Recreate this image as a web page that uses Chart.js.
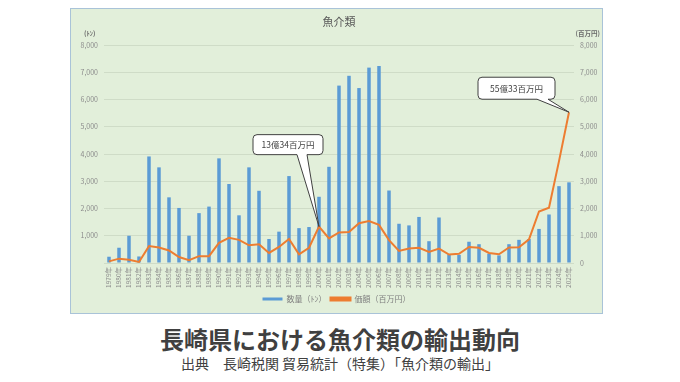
<!DOCTYPE html>
<html lang="ja">
<head>
<meta charset="utf-8">
<title>長崎県における魚介類の輸出動向</title>
<script src="https://cdn.jsdelivr.net/npm/chart.js@4/dist/chart.umd.min.js"></script>
<style>
  html, body { margin: 0; padding: 0; background: #ffffff; }
  body { width: 680px; height: 382px; position: relative; overflow: hidden; font-family: "Noto Sans CJK JP", "Noto Sans", sans-serif; }
  #caixa { position: absolute; left: 70px; top: 8px; width: 531px; height: 304px; background: #e2efda; border: 1px solid #a9c3d8; }
  #titulo { position: absolute; left: 0; top: 322px; width: 680px; text-align: center; font-size: 24px; font-weight: bold; line-height: 34px; color: #404040; }
  #fonte { position: absolute; left: 0; top: 353px; width: 680px; text-align: center; font-size: 14px; line-height: 20px; color: #404040; }
</style>
</head>
<body>
<div id="caixa"><canvas id="grafico" width="531" height="304"></canvas></div>
<div id="titulo">長崎県における魚介類の輸出動向</div>
<div id="fonte">出典　長崎税関 貿易統計（特集）「魚介類の輸出」</div>

<script>
const anos = [
  "1979年", "1980年", "1981年", "1982年", "1983年", "1984年", "1985年", "1986年",
  "1987年", "1988年", "1989年", "1990年", "1991年", "1992年", "1993年", "1994年",
  "1995年", "1996年", "1997年", "1998年", "1999年", "2000年", "2001年", "2002年",
  "2003年", "2004年", "2005年", "2006年", "2007年", "2008年", "2009年", "2010年",
  "2011年", "2012年", "2013年", "2014年", "2015年", "2016年", "2017年", "2018年",
  "2019年", "2020年", "2021年", "2022年", "2023年", "2024年", "2025年"
];

// 数量（トン）
const quantidade = [
  230, 560, 1000, 240, 3910, 3510, 2410, 2020,
  1000, 1830, 2070, 3840, 2900, 1750, 3510, 2650,
  880, 1150, 3190, 1280, 1320, 2430, 3530, 6510,
  6870, 6420, 7170, 7230, 2660, 1440, 1380, 1690,
  800, 1670, 320, 300, 780, 690, 340, 280,
  690, 850, 880, 1250, 1780, 2820, 2960
];

// 価額（百万円）
const valor = [
  60, 160, 120, 40, 620, 570, 460, 220,
  100, 250, 250, 740, 925, 850, 650, 690,
  370, 590, 880, 320, 560, 1334, 900, 1120,
  1140, 1460, 1540, 1400, 840, 440, 530, 560,
  410, 530, 310, 340, 590, 560, 370, 320,
  570, 580, 870, 1890, 2030, 3740, 5533
];

const rotulosEixo = { esquerda: "(ﾄﾝ)", direita: "(百万円)" };
const chamadas = [
  { ano: "2000年", texto: "13億34百万円" },
  { ano: "2025年", texto: "55億33百万円" }
];

Chart.defaults.font.family = '"Noto Sans CJK JP", "Noto Sans", sans-serif';
Chart.defaults.color = "#8c8c8c";

function formatarNumero(v) {
  return Number(v).toLocaleString("en-US");
}

// titulo interno, unidades dos eixos
const pluginTextos = {
  id: "textos",
  afterDraw(chart) {
    const { ctx, chartArea } = chart;
    ctx.save();
    ctx.fillStyle = "#595959";
    ctx.font = '11px "Noto Sans CJK JP"';
    ctx.textAlign = "center";
    ctx.textBaseline = "middle";
    ctx.fillText("魚介類", (chartArea.left + chartArea.right) / 2, 13);

    ctx.font = 'bold 6.5px "Noto Sans CJK JP"';
    ctx.fillStyle = "#6b6b6b";
    ctx.textAlign = "left";
    ctx.fillText(rotulosEixo.esquerda, 13, 25);
    ctx.textAlign = "right";
    ctx.fillText(rotulosEixo.direita, 529, 25);
    ctx.restore();
  }
};

// balões com o valor
const pluginChamadas = {
  id: "chamadas",
  afterDatasetsDraw(chart) {
    const { ctx } = chart;
    const meta = chart.getDatasetMeta(1);

    const formatos = [
      { dx: -66, dy: -92, w: 70, h: 20, t1: -22, t2: -12 },
      { dx: -91, dy: -35, w: 77, h: 22, t1: -32, t2: -21 }
    ];

    chamadas.forEach((c, i) => {
      const idx = anos.indexOf(c.ano);
      const p = meta.data[idx];
      if (!p) return;
      const f = formatos[i];
      const x = p.x + f.dx;
      const y = p.y + f.dy;
      const r = 4;
      const b = y + f.h;

      ctx.save();
      ctx.beginPath();
      ctx.moveTo(x + r, y);
      ctx.arcTo(x + f.w, y, x + f.w, b, r);
      ctx.arcTo(x + f.w, b, x, b, r);
      ctx.lineTo(p.x + f.t2, b);
      ctx.lineTo(p.x, p.y);
      ctx.lineTo(p.x + f.t1, b);
      ctx.arcTo(x, b, x, y, r);
      ctx.arcTo(x, y, x + f.w, y, r);
      ctx.closePath();
      ctx.fillStyle = "#ffffff";
      ctx.fill();
      ctx.strokeStyle = "#404040";
      ctx.lineWidth = 1;
      ctx.stroke();

      ctx.fillStyle = "#404040";
      ctx.font = '8.5px "Noto Sans CJK JP"';
      ctx.textAlign = "center";
      ctx.textBaseline = "middle";
      ctx.fillText(c.texto, x + f.w / 2, y + f.h / 2 + 0.5);
      ctx.restore();
    });
  }
};

const ctx = document.getElementById("grafico").getContext("2d");

new Chart(ctx, {
  type: "bar",
  data: {
    labels: anos,
    datasets: [
      {
        type: "bar",
        label: "数量（ﾄﾝ）",
        data: quantidade,
        backgroundColor: "#5b9bd5",
        borderWidth: 0,
        barPercentage: 0.35,
        categoryPercentage: 1,
        yAxisID: "y",
        order: 2
      },
      {
        type: "line",
        label: "価額（百万円）",
        data: valor,
        borderColor: "#ed7d31",
        backgroundColor: "#ed7d31",
        borderWidth: 2,
        pointRadius: 0,
        tension: 0,
        yAxisID: "y1",
        order: 1
      }
    ]
  },
  options: {
    responsive: false,
    animation: false,
    layout: { padding: { top: 36, left: 0, right: 0, bottom: 0 } },
    plugins: {
      title: { display: false },
      tooltip: { enabled: false },
      legend: {
        position: "bottom",
        labels: {
          boxWidth: 20,
          boxHeight: 3,
          padding: 4,
          color: "#7f7f7f",
          font: { size: 8 },
          sort: (a, b) => a.datasetIndex - b.datasetIndex
        }
      }
    },
    scales: {
      x: {
        grid: { display: false, drawTicks: false },
        border: { display: false },
        ticks: {
          autoSkip: false,
          maxRotation: 90,
          minRotation: 90,
          padding: 4,
          color: "#8c8c8c",
          font: { size: 6.5 }
        },
        afterFit(scale) { scale.height = 28; }
      },
      y: {
        position: "left",
        min: 0,
        max: 8000,
        grid: { color: "#cfdcc7", lineWidth: 1, drawTicks: false },
        border: { display: false },
        ticks: {
          stepSize: 1000,
          padding: 6,
          color: "#8c8c8c",
          font: { size: 7 },
          callback: v => (v === 0 ? "" : formatarNumero(v))
        },
        afterFit(scale) { scale.width = 33; }
      },
      y1: {
        position: "right",
        min: 0,
        max: 8000,
        grid: { display: false, drawTicks: false },
        border: { display: false },
        ticks: {
          stepSize: 1000,
          padding: 6,
          color: "#8c8c8c",
          font: { size: 7 },
          callback: v => formatarNumero(v)
        },
        afterFit(scale) { scale.width = 28; }
      }
    }
  },
  plugins: [pluginTextos, pluginChamadas]
});
</script>
</body>
</html>
